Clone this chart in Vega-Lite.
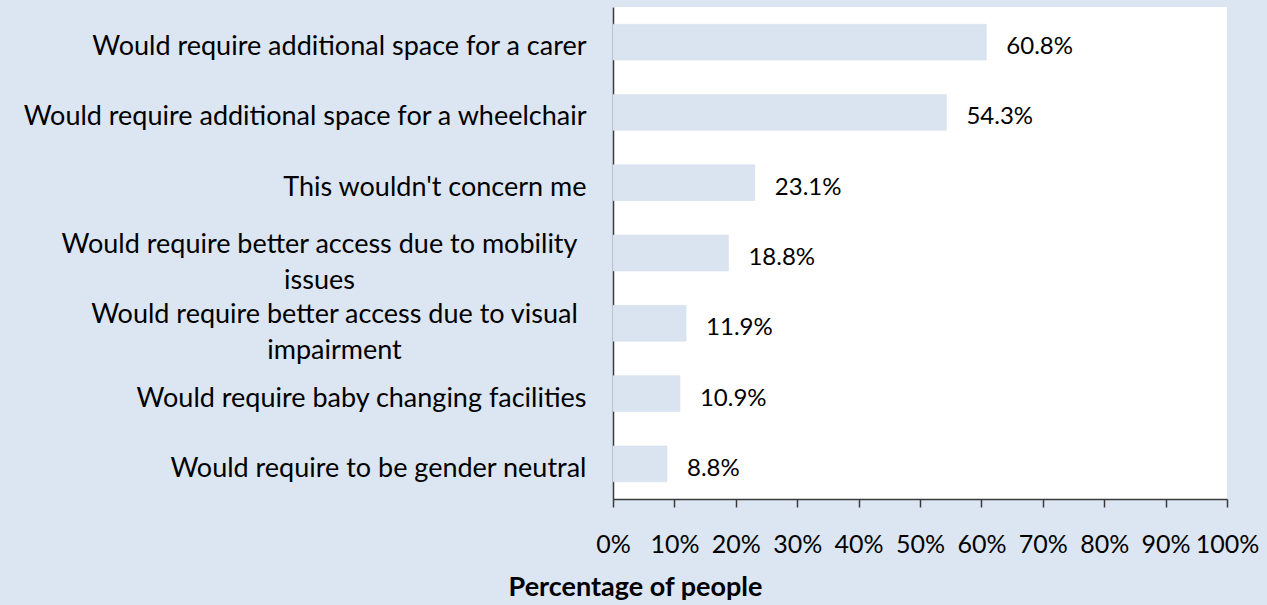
{
  "$schema": "https://vega.github.io/schema/vega-lite/v6.json",
  "autosize": "none",
  "width": 614,
  "height": 492,
  "padding": {"left": 613, "top": 7, "right": 40, "bottom": 106},
  "background": "#dce6f2",
  "config": {
    "view": {"fill": "white", "stroke": null},
    "font": "Lato"
  },
  "data": {
    "values": [
      {"category": "Would require additional space for a carer", "value": 0.608},
      {"category": "Would require additional space for a wheelchair", "value": 0.543},
      {"category": "This wouldn't concern me", "value": 0.231},
      {"category": "Would require better access due to mobility issues", "value": 0.188},
      {"category": "Would require better access due to visual impairment", "value": 0.119},
      {"category": "Would require baby changing facilities", "value": 0.109},
      {"category": "Would require to be gender neutral", "value": 0.088}
    ]
  },
  "encoding": {
    "y": {
      "field": "category",
      "type": "nominal",
      "sort": null,
      "scale": {"paddingInner": 0.49, "paddingOuter": 0.245},
      "axis": {
        "title": null,
        "domain": true,
        "domainColor": "#3a3a3a",
        "domainWidth": 1.5,
        "ticks": false,
        "labelFont": "Lato",
        "labelFontSize": 27,
        "labelColor": "#000000",
        "labelLimit": 700,
        "labelLineHeight": 36,
        "labelExpr": "datum.value == 'Would require better access due to mobility issues' ? ['Would require better access due to mobility', 'issues'] : datum.value == 'Would require better access due to visual impairment' ? ['Would require better access due to visual', 'impairment'] : datum.value",
        "labelAlign": {"condition": {"test": "indexof(datum.value, 'better access') >= 0", "value": "center"}, "value": "right"},
        "labelOffset": {"condition": {"test": "indexof(datum.value, 'better access') >= 0", "value": -8}, "value": 5},
        "labelPadding": {"condition": [
          {"test": "indexof(datum.value, 'mobility') >= 0", "value": 294},
          {"test": "indexof(datum.value, 'visual') >= 0", "value": 279}
        ], "value": 27}
      }
    }
  },
  "layer": [
    {
      "mark": {"type": "bar", "color": "#dae4f1", "stroke": "#d2dcea", "strokeWidth": 0.5},
      "encoding": {
        "x": {
          "field": "value",
          "type": "quantitative",
          "scale": {"domain": [0, 1], "nice": false},
          "axis": {
            "title": "Percentage of people",
            "titleFont": "Lato",
            "titleFontSize": 27,
            "titleFontWeight": "bold",
            "titleColor": "#000000",
            "titleX": 22,
            "titleY": 88,
            "titleBaseline": "middle",
            "format": ".0%",
            "values": [0, 0.1, 0.2, 0.3, 0.4, 0.5, 0.6, 0.7, 0.8, 0.9, 1],
            "grid": false,
            "domainColor": "#3a3a3a",
            "domainWidth": 1.5,
            "tickColor": "#3a3a3a",
            "tickWidth": 1.5,
            "tickSize": 8,
            "labelFont": "Lato",
            "labelFontSize": 25,
            "labelColor": "#000000",
            "labelPadding": 25,
            "labelFlush": false,
            "labelOverlap": false
          }
        }
      }
    },
    {
      "mark": {"type": "text", "align": "left", "baseline": "middle", "dx": 20, "dy": 5, "font": "Lato", "fontSize": 24, "color": "#000000"},
      "encoding": {
        "x": {"field": "value", "type": "quantitative"},
        "text": {"field": "value", "type": "quantitative", "format": ".1%"}
      }
    }
  ]
}
